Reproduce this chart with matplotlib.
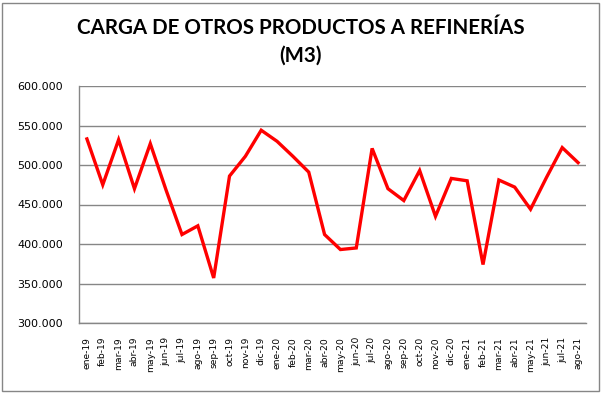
import matplotlib
matplotlib.use("Agg")
import matplotlib.pyplot as plt
import matplotlib.ticker as mticker
from matplotlib.patches import Rectangle

meses = ["ene-19", "feb-19", "mar-19", "abr-19", "may-19", "jun-19", "jul-19", "ago-19",
         "sep-19", "oct-19", "nov-19", "dic-19", "ene-20", "feb-20", "mar-20", "abr-20",
         "may-20", "jun-20", "jul-20", "ago-20", "sep-20", "oct-20", "nov-20", "dic-20",
         "ene-21", "feb-21", "mar-21", "abr-21", "may-21", "jun-21", "jul-21", "ago-21"]
carga = [533000, 475000, 532000, 470000, 527000, 468000, 412000, 423000,
         357000, 486000, 511000, 544000, 530000, 511000, 491000, 412000,
         393000, 395000, 521000, 470000, 455000, 493000, 435000, 483000,
         480000, 374000, 481000, 472000, 444000, 484000, 522000, 503000]

fig = plt.figure(figsize=(6.02, 3.93), dpi=100)
ax = fig.add_axes([79 / 602, 1 - 323 / 393, (586 - 79) / 602, (323 - 86) / 393])

x = list(range(len(meses)))
ax.plot(x, carga, color="#ff0000", linewidth=2.4, solid_joinstyle="miter")

ax.set_xlim(-0.5, len(meses) - 0.5)
ax.set_ylim(300000, 600000)
ax.set_yticks(range(300000, 600001, 50000))
ax.yaxis.set_major_formatter(mticker.FuncFormatter(lambda v, p: f"{int(v):,}".replace(",", ".")))
ax.set_xticks(x)
ax.set_xticklabels(meses, rotation=90, fontsize=6.6)
for lbl in ax.get_yticklabels():
    lbl.set_fontsize(8)
ax.tick_params(axis="x", length=0, pad=10)
ax.tick_params(axis="y", length=0, pad=11.5)

ax.grid(axis="y", color="#868686", linewidth=1)
ax.set_axisbelow(True)
for s in ["top", "right"]:
    ax.spines[s].set_visible(False)
for s in ["left", "bottom"]:
    ax.spines[s].set_color("#868686")
    ax.spines[s].set_linewidth(1)

fig.text(0.5, 1 - 28 / 393, "CARGA DE OTROS PRODUCTOS A REFINERÍAS", ha="center", va="center",
         fontsize=14.8, fontweight="bold", family="Lato")
fig.text(0.5, 1 - 56 / 393, "(M3)", ha="center", va="center",
         fontsize=14.8, fontweight="bold", family="Lato")

fig.patches.append(Rectangle((2 / 602, 2 / 393), 597 / 602, 388 / 393, transform=fig.transFigure,
                             fill=False, edgecolor="#868686", linewidth=1))

fig.savefig("out.png", dpi=100)
